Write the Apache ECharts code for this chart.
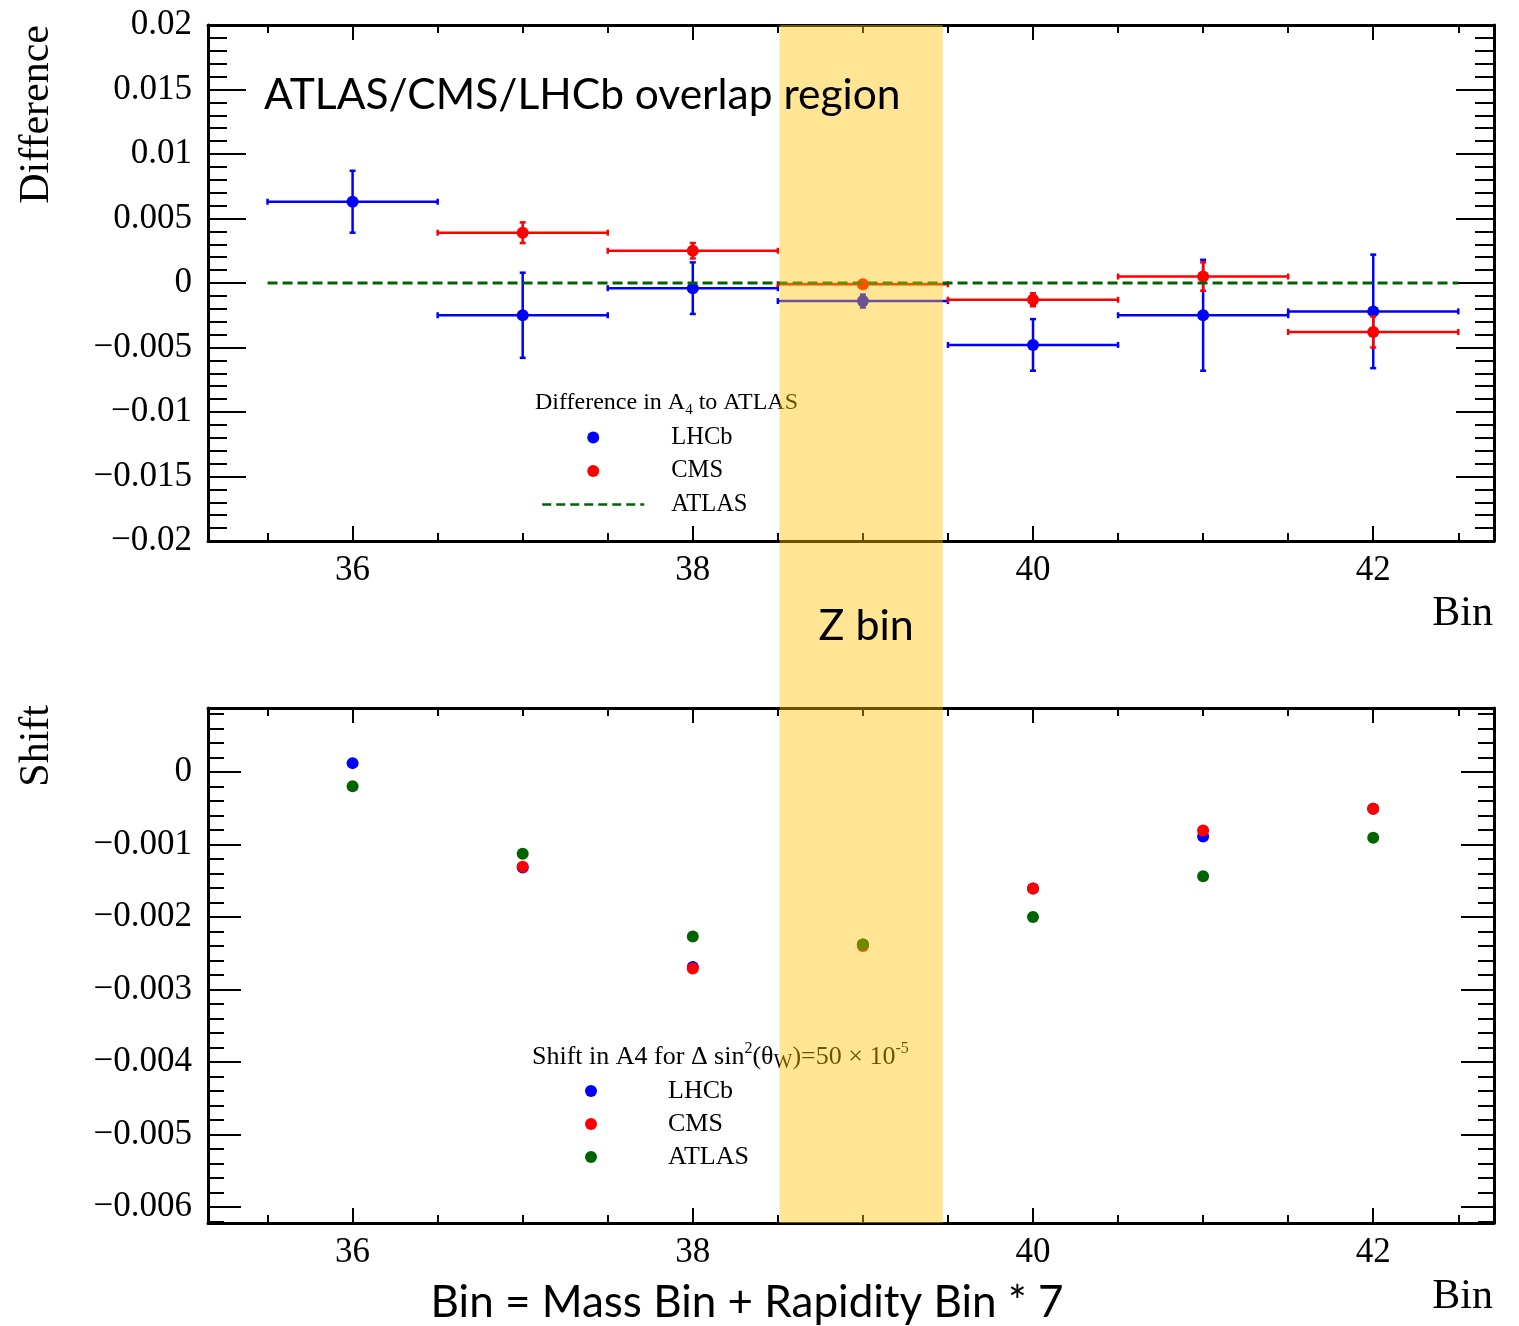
<!DOCTYPE html>
<html>
<head>
<meta charset="utf-8">
<title>A4 difference and shift per bin</title>
<script src="https://cdn.jsdelivr.net/npm/echarts@6/dist/echarts.min.js"></script>
<style>
  html, body { margin: 0; padding: 0; background: #fff; }
  #chart { width: 1519px; height: 1326px; }
</style>
</head>
<body>
<div id="chart"></div>
<script>
// Bin = Mass Bin + Rapidity Bin * 7
const bins = [36, 37, 38, 39, 40, 41, 42];
const binHalfWidth = [0.5, 0.5, 0.5, 0.5, 0.5, 0.5, 0.5];

// difference in A4 to ATLAS
const lhcbDiff = [0.0063, -0.0025, -0.0004, -0.0014, -0.0048, -0.0025, -0.0022];
const lhcbDiffErr = [0.0024, 0.0033, 0.0020, 0.0005, 0.0020, 0.0043, 0.0044];
const cmsDiff = [null, 0.0039, 0.0025, -0.0001, -0.0013, 0.0005, -0.0038];
const cmsDiffErr = [null, 0.0008, 0.0006, 0.0001, 0.0005, 0.0011, 0.0012];
const atlasLineX = [35.5, 42.5];
const atlasLineY = [0, 0];

// shift in A4 for delta sin^2(theta_W) = 50e-5
const lhcbShift = [0.00012, -0.00132, -0.00269, -0.00238, -0.00161, -0.00089, -0.00051];
const cmsShift = [null, -0.00131, -0.00271, -0.0024, -0.00161, -0.00081, -0.00051];
const atlasShift = [-0.0002, -0.00113, -0.00227, -0.00238, -0.002, -0.00144, -0.00091];

// axis ranges
const binRange = [35.15, 42.71];
const diffRange = [-0.02, 0.02];
const diffStep = 0.005;
const shiftRange = [-0.00622, 0.00088];
const zBin = [38.51, 39.47];

const BLUE = '#0000ff';
const RED = '#ff0000';
const GREEN = '#006400';
const serif = '"Liberation Serif", "Times New Roman", serif';
const sans = 'Lato, "Open Sans", sans-serif';
// lower panel series reuse the names; a zero width space keeps them apart for the legends
const ZW = '\u200b';

function tickLabel(v) {
  if (Math.abs(v) < 1e-12) return '0';
  return (v < 0 ? '\u2212' : '') + parseFloat(Math.abs(v).toPrecision(6));
}

function xAxisFor(gridIndex, position) {
  const isBottom = position === 'bottom';
  return {
    type: 'value',
    gridIndex: gridIndex,
    position: position,
    min: binRange[0],
    max: binRange[1],
    splitNumber: 4,
    axisLine: { show: true, onZero: false, lineStyle: { color: '#000', width: 3 } },
    axisTick: { show: true, inside: true, length: 15, lineStyle: { color: '#000', width: 2 } },
    minorTick: { show: true, splitNumber: 4, length: 8, lineStyle: { color: '#000', width: 2 } },
    axisLabel: {
      show: isBottom, showMinLabel: false, showMaxLabel: false, margin: 12,
      color: '#000', fontFamily: serif, fontSize: 35
    },
    splitLine: { show: false }
  };
}

function yAxisFor(gridIndex, position, range, step, major, minor) {
  const axis = {
    type: 'value',
    gridIndex: gridIndex,
    position: position,
    min: range[0],
    max: range[1],
    axisLine: { show: true, onZero: false, lineStyle: { color: '#000', width: 3 } },
    axisTick: { show: true, inside: true, length: major, lineStyle: { color: '#000', width: 2 } },
    minorTick: { show: true, splitNumber: 5, length: minor, lineStyle: { color: '#000', width: 2 } },
    axisLabel: {
      show: position === 'left', margin: 16, color: '#000',
      fontFamily: serif, fontSize: 35, formatter: tickLabel
    },
    splitLine: { show: false }
  };
  if (step) {
    axis.interval = step;
    axis.axisLabel.showMinLabel = true;
    axis.axisLabel.showMaxLabel = true;
  } else {
    axis.splitNumber = 7;
    axis.axisLabel.showMinLabel = false;
    axis.axisLabel.showMaxLabel = false;
  }
  return axis;
}

// error bar cross with a round marker, drawn through the axis scales
function errorBar(color) {
  return function (params, api) {
    const x = api.value(0), y = api.value(1), ex = api.value(2), ey = api.value(3);
    const c = api.coord([x, y]);
    const l = api.coord([x - ex, y]);
    const r = api.coord([x + ex, y]);
    const t = api.coord([x, y + ey]);
    const b = api.coord([x, y - ey]);
    const cap = 3;
    const seg = (x1, y1, x2, y2) => ({
      type: 'line', shape: { x1: x1, y1: y1, x2: x2, y2: y2 },
      style: { stroke: color, lineWidth: 2.5 }
    });
    return {
      type: 'group',
      children: [
        seg(l[0], l[1], r[0], r[1]),
        seg(l[0], l[1] - cap, l[0], l[1] + cap),
        seg(r[0], r[1] - cap, r[0], r[1] + cap),
        seg(t[0], t[1], b[0], b[1]),
        seg(t[0] - cap, t[1], t[0] + cap, t[1]),
        seg(b[0] - cap, b[1], b[0] + cap, b[1]),
        { type: 'circle', shape: { cx: c[0], cy: c[1], r: 6 }, style: { fill: color } }
      ]
    };
  };
}

function errorData(vals, errs) {
  const out = [];
  bins.forEach((b, i) => {
    if (vals[i] !== null) out.push([b, vals[i], binHalfWidth[i], errs[i]]);
  });
  return out;
}

function pointData(vals) {
  const out = [];
  bins.forEach((b, i) => {
    if (vals[i] !== null) out.push([b, vals[i]]);
  });
  return out;
}

const chart = echarts.init(document.getElementById('chart'));

chart.setOption({
  animation: false,
  backgroundColor: '#fff',
  grid: [
    { left: 208, right: 25, top: 25, height: 516 },
    { left: 208, right: 25, top: 708, height: 515 }
  ],
  xAxis: [
    xAxisFor(0, 'bottom'),
    xAxisFor(0, 'top'),
    xAxisFor(1, 'bottom'),
    xAxisFor(1, 'top')
  ],
  yAxis: [
    yAxisFor(0, 'left', diffRange, diffStep, 38, 19),
    yAxisFor(0, 'right', diffRange, diffStep, 38, 19),
    yAxisFor(1, 'left', shiftRange, null, 33, 16),
    yAxisFor(1, 'right', shiftRange, null, 33, 16)
  ],
  title: [
    {
      text: 'Difference in A{sub|4} to ATLAS',
      left: 535, top: 388, padding: 0,
      textStyle: {
        fontFamily: serif, fontSize: 24, fontWeight: 'normal', color: '#000', lineHeight: 30,
        rich: { sub: { fontFamily: serif, fontSize: 15, color: '#000', verticalAlign: 'bottom', lineHeight: 30 } }
      }
    },
    {
      text: 'Shift in A4 for \u0394 sin{sup|2}(\u03b8{sub|W})=50 \u00d7 10{sup|-5}',
      left: 532, top: 1041, padding: 0,
      textStyle: {
        fontFamily: serif, fontSize: 26, fontWeight: 'normal', color: '#000', lineHeight: 32,
        rich: {
          sub: { fontFamily: serif, fontSize: 20, color: '#000', verticalAlign: 'bottom', lineHeight: 32 },
          sup: { fontFamily: serif, fontSize: 16, color: '#000', verticalAlign: 'top', lineHeight: 32 }
        }
      }
    }
  ],
  legend: [
    {
      left: 541, top: 425, orient: 'vertical', align: 'left', padding: 0,
      itemWidth: 102, itemHeight: 12, itemGap: 8.5,
      selectedMode: false,
      textStyle: { fontFamily: serif, fontSize: 24.5, color: '#000', lineHeight: 24, padding: [0, 0, 0, 22] },
      lineStyle: { width: 2.5, type: [9, 5] },
      data: [
        { name: 'LHCb', icon: 'circle' },
        { name: 'CMS', icon: 'circle' },
        { name: 'ATLAS', itemStyle: { opacity: 0 } }
      ]
    },
    {
      // only dots here, so the box starts at the dot's left edge
      left: 585, top: 1078, orient: 'vertical', align: 'left', padding: 0,
      itemWidth: 102, itemHeight: 12, itemGap: 7,
      selectedMode: false,
      textStyle: { fontFamily: serif, fontSize: 26, color: '#000', lineHeight: 26, padding: [0, 0, 0, 21] },
      data: [
        { name: 'LHCb' + ZW, icon: 'circle' },
        { name: 'CMS' + ZW, icon: 'circle' },
        { name: 'ATLAS' + ZW, icon: 'circle' }
      ]
    }
  ],
  series: [
    {
      name: 'LHCb', type: 'custom', xAxisIndex: 0, yAxisIndex: 0,
      itemStyle: { color: BLUE }, renderItem: errorBar(BLUE),
      encode: { x: 0, y: 1 }, data: errorData(lhcbDiff, lhcbDiffErr)
    },
    {
      name: 'CMS', type: 'custom', xAxisIndex: 0, yAxisIndex: 0,
      itemStyle: { color: RED }, renderItem: errorBar(RED),
      encode: { x: 0, y: 1 }, data: errorData(cmsDiff, cmsDiffErr)
    },
    {
      name: 'ATLAS', type: 'line', xAxisIndex: 0, yAxisIndex: 0,
      symbol: 'none', z: 3,
      lineStyle: { color: GREEN, width: 3, type: [10, 5] },
      itemStyle: { color: GREEN },
      data: atlasLineX.map((x, i) => [x, atlasLineY[i]])
    },
    {
      name: 'LHCb' + ZW, type: 'scatter', xAxisIndex: 2, yAxisIndex: 2,
      symbolSize: 12, itemStyle: { color: BLUE, opacity: 1 },
      data: pointData(lhcbShift)
    },
    {
      name: 'CMS' + ZW, type: 'scatter', xAxisIndex: 2, yAxisIndex: 2,
      symbolSize: 12, itemStyle: { color: RED, opacity: 1 },
      data: pointData(cmsShift)
    },
    {
      name: 'ATLAS' + ZW, type: 'scatter', xAxisIndex: 2, yAxisIndex: 2,
      symbolSize: 12, itemStyle: { color: GREEN, opacity: 1 },
      data: pointData(atlasShift)
    }
  ]
});

// Z bin band spans both panels, laid out from the axis scales
const bandLeft = chart.convertToPixel({ xAxisIndex: 0 }, zBin[0]);
const bandRight = chart.convertToPixel({ xAxisIndex: 0 }, zBin[1]);
const bandTop = chart.convertToPixel({ yAxisIndex: 0 }, diffRange[1]);
const bandBottom = chart.convertToPixel({ yAxisIndex: 2 }, shiftRange[0]);

chart.setOption({
  graphic: [
    {
      type: 'rect', z: 50, silent: true,
      shape: { x: bandLeft, y: bandTop, width: bandRight - bandLeft, height: bandBottom - bandTop },
      style: { fill: 'rgba(255, 192, 0, 0.42)' }
    },
    {
      type: 'text', z: 60, x: 264, y: 95,
      style: { text: 'ATLAS/CMS/LHCb overlap region', font: '42.5px ' + sans, fill: '#000', verticalAlign: 'middle' }
    },
    {
      type: 'text', z: 60, x: (bandLeft + bandRight) / 2 + 5, y: 626,
      style: { text: 'Z bin', font: '43px ' + sans, fill: '#000', align: 'center', verticalAlign: 'middle' }
    },
    {
      type: 'text', z: 60, x: 747, y: 1303,
      style: { text: 'Bin = Mass Bin + Rapidity Bin * 7', font: '44px ' + sans, fill: '#000', align: 'center', verticalAlign: 'middle' }
    },
    {
      type: 'text', z: 60, x: 37, y: 25, rotation: Math.PI / 2,
      style: { text: 'Difference', font: '42px ' + serif, fill: '#000', align: 'right', verticalAlign: 'middle' }
    },
    {
      type: 'text', z: 60, x: 37, y: 705, rotation: Math.PI / 2,
      style: { text: 'Shift', font: '42px ' + serif, fill: '#000', align: 'right', verticalAlign: 'middle' }
    },
    {
      type: 'text', z: 60, x: 1493, y: 614,
      style: { text: 'Bin', font: '42px ' + serif, fill: '#000', align: 'right', verticalAlign: 'middle' }
    },
    {
      type: 'text', z: 60, x: 1493, y: 1297,
      style: { text: 'Bin', font: '42px ' + serif, fill: '#000', align: 'right', verticalAlign: 'middle' }
    }
  ]
});

window.addEventListener('resize', () => chart.resize());
</script>
</body>
</html>
